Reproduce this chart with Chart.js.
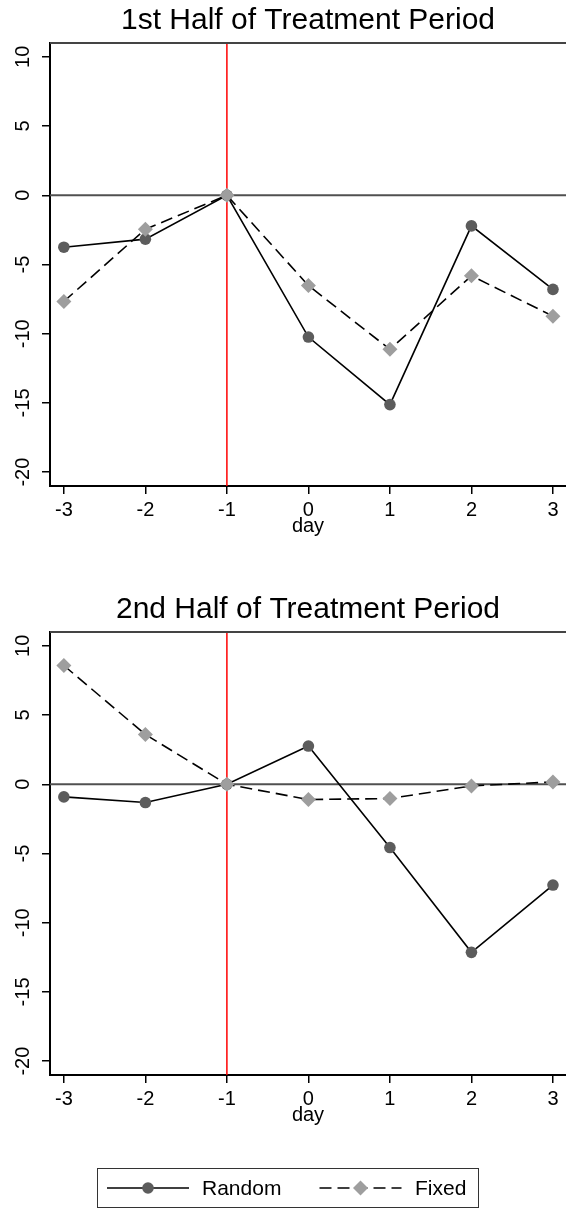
<!DOCTYPE html>
<html>
<head>
<meta charset="utf-8">
<script src="https://cdn.jsdelivr.net/npm/chart.js@4.4.1/dist/chart.umd.min.js"></script>
<style>
  html, body { margin: 0; background: #fff; overflow: hidden; }
  canvas { position: absolute; left: 0; display: block; }
</style>
</head>
<body>
<canvas id="chart1" width="566" height="589" style="top:0"></canvas>
<canvas id="chart2" width="566" height="620" style="top:589px"></canvas>
<script>
// values
const days = [-3, -2, -1, 0, 1, 2, 3];
const yTicks = [-20, -15, -10, -5, 0, 5, 10];
const random1 = [-3.75, -3.17, 0, -10.24, -15.12, -2.21, -6.8];
const fixed1 = [-7.67, -2.45, 0, -6.52, -11.13, -5.82, -8.73];
const random2 = [-0.91, -1.32, 0, 2.76, -4.57, -12.14, -7.28];
const fixed2 = [8.58, 3.6, 0, -1.1, -1.03, -0.12, 0.17];
const seriesNames = ['Random', 'Fixed'];
const eventDay = -1;

const FONT = "'Liberation Sans', Arial, sans-serif";
Chart.defaults.font.family = FONT;
Chart.defaults.color = '#000';

// zero line, red event line and top frame
const refLines = {
  id: 'refLines',
  beforeDatasetsDraw(chart) {
    const { ctx, chartArea: a, scales: { x, y } } = chart;
    ctx.save();
    const y0 = y.getPixelForValue(0);
    ctx.strokeStyle = '#505050';
    ctx.lineWidth = 2;
    ctx.beginPath(); ctx.moveTo(a.left, y0); ctx.lineTo(a.right, y0); ctx.stroke();
    const xe = x.getPixelForValue(eventDay);
    ctx.strokeStyle = '#ff0000';
    ctx.lineWidth = 1.5;
    ctx.beginPath(); ctx.moveTo(xe, a.top); ctx.lineTo(xe, a.bottom); ctx.stroke();
    ctx.strokeStyle = '#444';
    ctx.lineWidth = 2;
    ctx.beginPath(); ctx.moveTo(a.left, a.top); ctx.lineTo(a.right, a.top); ctx.stroke();
    ctx.restore();
  }
};

// boxed legend with line + marker samples
const legendBox = {
  id: 'legendBox',
  afterDraw(chart, args, opts) {
    if (!opts.show) return;
    const ctx = chart.ctx;
    const box = { left: 97.5, top: 579.5, width: 381, height: 39 };
    const items = [{ from: 107, to: 189, text: 202 }, { from: 319.5, to: 401.5, text: 415 }];
    const cy = box.top + box.height / 2;
    ctx.save();
    ctx.strokeStyle = '#333';
    ctx.lineWidth = 1;
    ctx.strokeRect(box.left, box.top, box.width, box.height);
    chart.data.datasets.forEach((ds, i) => {
      const it = items[i];
      ctx.strokeStyle = ds.borderColor;
      ctx.lineWidth = ds.borderWidth;
      ctx.setLineDash(ds.borderDash || []);
      ctx.beginPath(); ctx.moveTo(it.from, cy); ctx.lineTo(it.to, cy); ctx.stroke();
      ctx.setLineDash([]);
      ctx.fillStyle = ds.pointBackgroundColor;
      Chart.helpers.drawPoint(ctx, { pointStyle: ds.pointStyle, radius: ds.pointRadius, borderWidth: 0, rotation: 0 }, (it.from + it.to) / 2, cy);
      ctx.fillStyle = '#000';
      ctx.font = '21px ' + FONT;
      ctx.textBaseline = 'middle';
      ctx.fillText(ds.label, it.text, cy + 1);
    });
    ctx.restore();
  }
};

function makeChart(id, title, randomVals, fixedVals, withLegend) {
  new Chart(document.getElementById(id), {
    type: 'line',
    data: {
      datasets: [
        {
          label: seriesNames[0],
          data: days.map((d, i) => ({ x: d, y: randomVals[i] })),
          borderColor: '#000',
          borderWidth: 1.6,
          pointStyle: 'circle',
          pointRadius: 5.8,
          pointBackgroundColor: '#5c5c5c',
          pointBorderWidth: 0,
          order: 1
        },
        {
          label: seriesNames[1],
          data: days.map((d, i) => ({ x: d, y: fixedVals[i] })),
          borderColor: '#000',
          borderWidth: 1.6,
          borderDash: [12, 6],
          pointStyle: 'rectRot',
          pointRadius: 7.5,
          pointBackgroundColor: '#9e9e9e',
          pointBorderWidth: 0,
          order: 0
        }
      ]
    },
    options: {
      responsive: false,
      animation: false,
      devicePixelRatio: 1,
      layout: { autoPadding: false, padding: { left: 0, right: 0, top: 0, bottom: withLegend ? 31 : 0 } },
      plugins: {
        legend: { display: false },
        tooltip: { enabled: false },
        title: {
          display: true,
          text: title,
          fullSize: false,
          color: '#000',
          font: { size: 30, weight: 'normal' },
          padding: { top: 3, bottom: 4 }
        },
        legendBox: { show: withLegend }
      },
      scales: {
        x: {
          type: 'linear',
          min: -3.17,
          max: 3.16,
          afterBuildTicks: s => { s.ticks = days.map(v => ({ value: v })); },
          afterFit: s => { s.height = 103; s.paddingLeft = 0; s.paddingRight = 0; },
          grid: { drawOnChartArea: false, tickLength: 8, color: '#000', lineWidth: 1.5 },
          border: { display: true, color: '#000', width: 2 },
          ticks: { font: { size: 20 }, padding: 4, maxRotation: 0, autoSkip: false },
          title: { display: true, text: 'day', font: { size: 20 }, padding: { top: 0, bottom: 51 } }
        },
        y: {
          min: -21,
          max: 11,
          afterBuildTicks: s => { s.ticks = yTicks.map(v => ({ value: v })); },
          afterFit: s => { s.width = 50; s.paddingTop = 0; s.paddingBottom = 0; },
          grid: { drawOnChartArea: false, tickLength: 8, color: '#000', lineWidth: 1.5 },
          border: { display: true, color: '#000', width: 2 },
          ticks: { font: { size: 20 }, padding: 4.5, minRotation: 90, maxRotation: 90, crossAlign: 'center' }
        }
      }
    },
    plugins: [refLines, legendBox]
  });
}

makeChart('chart1', '1st Half of Treatment Period', random1, fixed1, false);
makeChart('chart2', '2nd Half of Treatment Period', random2, fixed2, true);
</script>
</body>
</html>
